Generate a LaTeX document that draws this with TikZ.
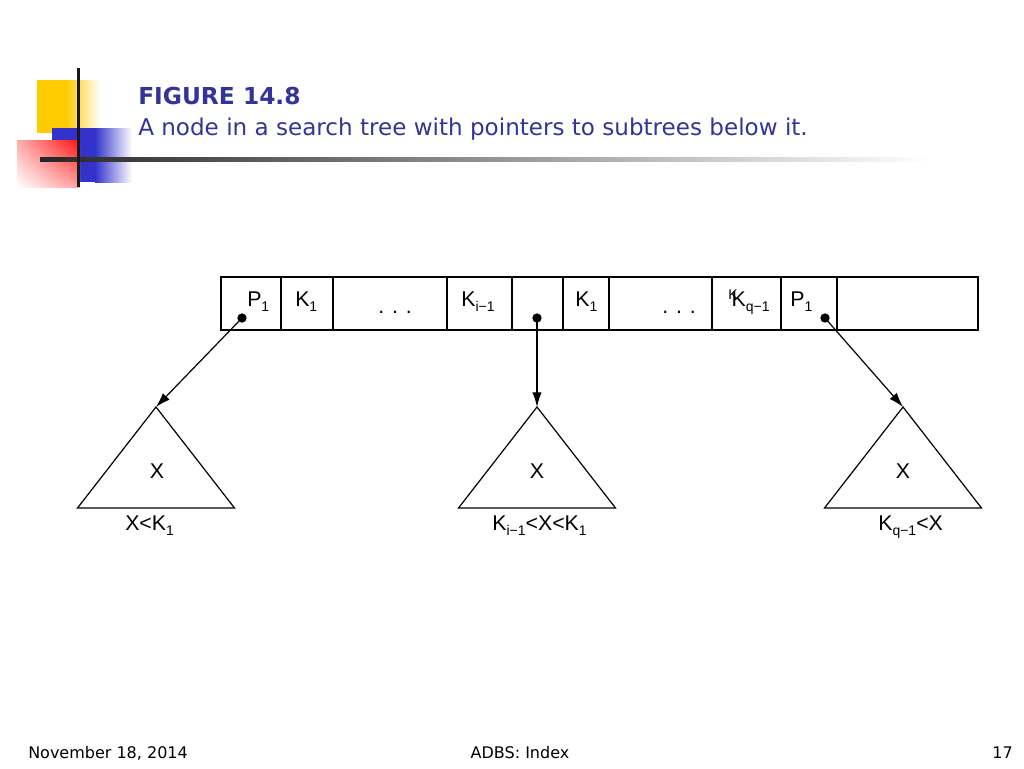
\documentclass[tikz,border=0pt]{standalone}
\usepackage{fontspec}
\setmainfont{DejaVu Sans}
\newfontfamily\figfont{Liberation Sans}
\usetikzlibrary{arrows.meta,positioning,shadings}
\definecolor{ttl}{HTML}{333399}
\definecolor{sqyellow}{HTML}{FFCC00}
\definecolor{sqblue}{HTML}{3333CC}
\definecolor{sqred}{HTML}{FF1010}
\newcommand\sub[1]{\raisebox{-0.45ex}{\fontsize{10.5}{10.5}\selectfont #1}}
\tikzset{
  cell/.style={draw,line width=0.9pt,inner sep=0pt,minimum height=39.75pt},
  lbl/.style={font=\figfont\fontsize{16}{16}\selectfont,inner sep=0pt,anchor=base west},
  ptr/.style={circle,fill=black,inner sep=0pt,minimum size=7pt},
  arr/.style={-{Latex[length=11pt,width=7pt]},line width=0.9pt},
  tri/.style={line width=0.9pt,line join=miter},
  foot/.style={font=\fontsize{12}{12}\selectfont,inner sep=0pt,anchor=base west}}

\begin{document}
\begin{tikzpicture}[x=0.75pt,y=-0.75pt]
\useasboundingbox (0,0) rectangle (1024,768);
% corner decoration
\fill[sqyellow] (37,80) rectangle (66,133);
\shade[left color=sqyellow,right color=white] (66,80) rectangle (100,133);
\fill[sqblue] (52,128) rectangle (95,182);
\shade[left color=sqblue,right color=white] (95,128) rectangle (132,182);
\shade[upper right=sqred,upper left=sqred!35,lower right=sqred!40,lower left=white] (17,140) rectangle (80,187);
\shade[left color=black!85,right color=white] (40,157) rectangle (930,161);
\fill[black!90] (76.5,68) rectangle (79.5,187);
% title
\node[font=\bfseries\fontsize{17.5}{17.5}\selectfont,text=ttl,inner sep=0pt,anchor=base west] (fig) at (138,104) {FIGURE 14.8};
\node[font=\fontsize{17.3}{17.3}\selectfont,text=ttl,inner sep=0pt,anchor=base west] (cap) at (138,135) {A node in a search tree with pointers to subtrees below it.};
% the tree node
\foreach \a/\b/\n in {221/281/c1,281/333/c2,333/447/c3,447/512/c4,512/563/c5,563/609/c6,609/712/c7,712/781/c8,781/837/c9,837/978/c10}
  \node[cell,minimum width={(\b-\a)*0.75pt}] (\n) at ({(\a+\b)/2},303.5) {};
\node[lbl] (p1) at (247,306) {P\sub{1}};
\node[lbl] (k1) at (295,306) {K\sub{1}};
\node[lbl] (e1) at (378,313) {. . .};
\node[lbl] (ki) at (461,306) {K\sub{i−1}};
\node[lbl] (k1b) at (575,306) {K\sub{1}};
\node[lbl] (e2) at (662,313) {. . .};
\node[lbl] (kq) at (728,306) {\raisebox{0.6ex}{\fontsize{10.5}{10.5}\selectfont K}\kern-4.5pt K\sub{q−1}};
\node[lbl] (p2) at (790,306) {P\sub{1}};
\node[ptr] (d1) at (242,318) {};
\node[ptr] (d2) at (537,318) {};
\node[ptr] (d3) at (825,318) {};
% subtrees
\coordinate (t1) at (156,407);
\coordinate (t2) at (537,407);
\coordinate (t3) at (903,407);
\foreach \t in {t1,t2,t3}
  \draw[tri] (\t) -- ++(-78.5,101) -- ++(157,0) -- cycle;
\draw[arr] (d1.center) -- (t1);
\draw[arr] (d2.center) -- (t2);
\draw[arr] (d3.center) -- (t3);
\node[lbl,anchor=base] (x1) at (157,478) {X};
\node[lbl,anchor=base] (x2) at (537,478) {X};
\node[lbl,anchor=base] (x3) at (903,478) {X};
\node[lbl] (r1) at (125,530) {X<K\sub{1}};
\node[lbl] (r2) at (492,530) {K\sub{i−1}<X<K\sub{1}};
\node[lbl] (r3) at (878,530) {K\sub{q−1}<X};
% footer
\node[foot] (date) at (28,758) {November 18, 2014};
\node[foot,anchor=base] (course) at (520,758) {ADBS: Index};
\node[foot,anchor=base east] (page) at (1013,758) {17};
\end{tikzpicture}
\end{document}
